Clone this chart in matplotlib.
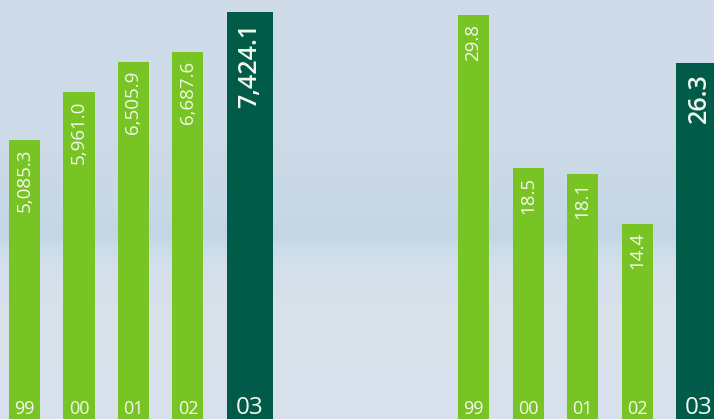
import numpy as np
import matplotlib.pyplot as plt
from matplotlib.colors import LinearSegmentedColormap

# данные
years = ['99', '00', '01', '02', '03']
left_values = [5085.3, 5961.0, 6505.9, 6687.6, 7424.1]
left_labels = ['5,085.3', '5,961.0', '6,505.9', '6,687.6', '7,424.1']
right_values = [29.8, 18.5, 18.1, 14.4, 26.3]
right_labels = ['29.8', '18.5', '18.1', '14.4', '26.3']

light_green = '#78c424'
dark_green = '#005c48'
txt_color = '#f4f8ee'

plt.rcParams['font.family'] = ['Open Sans', 'DejaVu Sans']

W, H = 714, 419
fig = plt.figure(figsize=(W / 100, H / 100), dpi=100)

# фон - небо
bg = fig.add_axes([0, 0, 1, 1])
sky = LinearSegmentedColormap.from_list('sky', [
    (0.0, '#d0dce9'), (0.35, '#cddae8'), (0.5, '#c8d8e6'),
    (0.56, '#c3d6e5'), (0.62, '#d2dfec'), (0.72, '#d8e1ea'), (1.0, '#d8e1ec')])
bg.imshow(np.linspace(0, 1, 200).reshape(-1, 1), cmap=sky, aspect='auto',
          extent=[0, 1, 0, 1], origin='upper')
bg.set_axis_off()

step = 54.5          # шаг столбцов, px
w_small = 31 / step
w_big = 46 / step


def draw_group(ax, values, labels, offset_px, ymax):
    n = len(values)
    widths = [w_small] * (n - 1) + [w_big]
    colors = [light_green] * (n - 1) + [dark_green]
    x = np.arange(n)
    ax.bar(x, values, width=widths, align='edge', color=colors, linewidth=0)
    half = W / 2
    ax.set_xlim(-offset_px / step, (half - offset_px) / step)
    ax.set_ylim(0, ymax)
    for i in range(n):
        xc = x[i] + widths[i] / 2
        last = i == n - 1
        ax.annotate(labels[i], xy=(xc, values[i]), xytext=(0, -8 if last else -6),
                    textcoords='offset points', rotation=90, ha='center', va='top',
                    color=txt_color, fontsize=18 if last else 13.5,
                    fontweight='semibold' if last else 'normal')
        ax.annotate(years[i], xy=(xc, 0), xytext=(0, 3.6), textcoords='offset points',
                    ha='center', va='baseline', color=txt_color,
                    fontsize=17.5 if last else 13)
    ax.set_axis_off()
    ax.patch.set_alpha(0)


ax1 = fig.add_axes([0, 0, 0.5, 1])
draw_group(ax1, left_values, left_labels, 9, H / 0.05487)

ax2 = fig.add_axes([0.5, 0, 0.5, 1])
draw_group(ax2, right_values, right_labels, 458 - W / 2, H / 13.55)

fig.savefig('out.png', dpi=100)
